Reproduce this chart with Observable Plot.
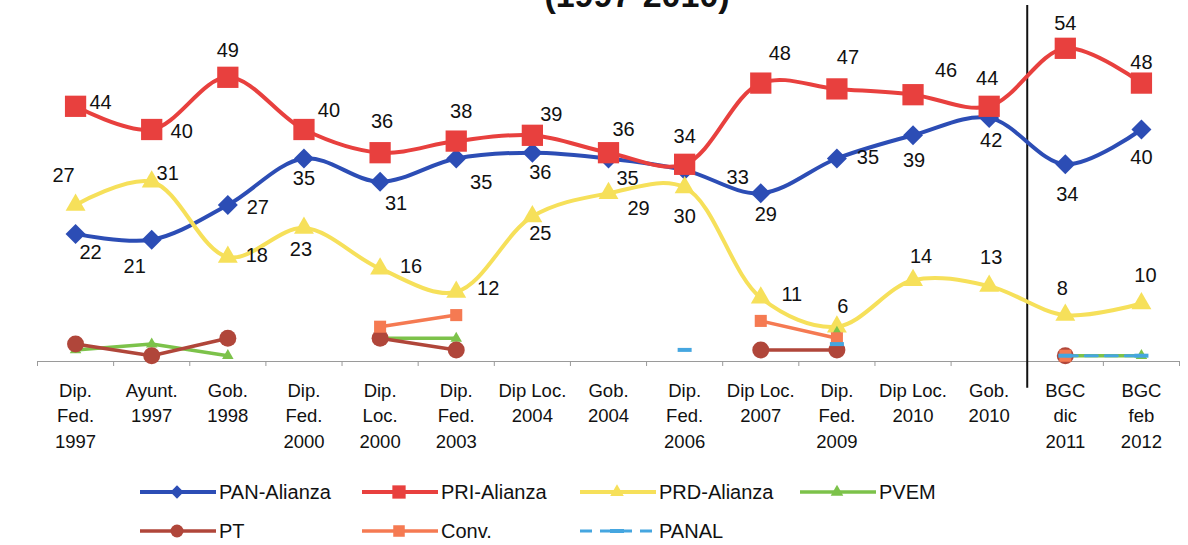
<!DOCTYPE html>
<html><head><meta charset="utf-8">
<script src="https://cdn.jsdelivr.net/npm/d3@7"></script>
<script src="https://cdn.jsdelivr.net/npm/@observablehq/plot@0.6"></script>
<style>
html,body{margin:0;padding:0;background:#fff;}
body{width:1188px;height:545px;overflow:hidden;position:relative;font-family:"Liberation Sans",Arial,sans-serif;}
#title{position:absolute;left:43px;width:1188px;top:-22px;text-align:center;font-weight:bold;font-size:34px;line-height:34px;color:#111;white-space:nowrap;}
#chart{position:absolute;left:0;top:0;}
#legend{position:absolute;left:0;top:0;width:1188px;height:545px;}
.item{position:absolute;display:flex;align-items:center;font-size:20px;color:#111;height:30px;}
.item svg{margin-right:3px;}
</style></head><body>
<div id="title">(1997-2010)</div>
<div id="chart"></div>
<div id="legend"></div>
<script>
// ---- data ----
const categories = ["Dip.\nFed.\n1997","Ayunt.\n1997","Gob.\n1998","Dip.\nFed.\n2000","Dip.\nLoc.\n2000","Dip.\nFed.\n2003","Dip Loc.\n2004","Gob.\n2004","Dip.\nFed.\n2006","Dip Loc.\n2007","Dip.\nFed.\n2009","Dip Loc.\n2010","Gob.\n2010","BGC\ndic\n2011","BGC\nfeb\n2012"];
const seriesNames = ["PAN-Alianza","PRI-Alianza","PRD-Alianza","PVEM","PT","Conv.","PANAL"];
const pan   = [22,21,27,35,31,35,36,35,33,29,35,39,42,34,40];
const pri   = [44,40,49,40,36,38,39,36,34,48,47,46,44,54,48];
const prd   = [27,31,18,23,16,12,25,29,30,11,6,14,13,8,10];
const pvem  = [2,3,1,null,4,4,null,null,null,null,5,null,null,1,1];
const pt    = [3,1,4,null,4,2,null,null,null,2,2,null,null,1,null];
const conv  = [null,null,null,null,6,8,null,null,null,7,4,null,null,1,null];
const panal = [null,null,null,null,null,null,null,null,2,null,3,null,null,1,1];
const dividerAfter = 12; // vertical rule between Gob. 2010 and BGC dic 2011

// ---- label offsets (px) for the data labels ----
const panLabelOffsets = [[15,19],[-17,27],[30,3],[0,20],[16,22],[25,24],[8,20],[19,20],[53,7],[5,21],[31,-1],[1,25],[2,23],[2,30],[0,28]];
const priLabelOffsets = [[25,-4],[30,2],[0,-27],[25,-19],[2,-31],[5,-30],[19,-21],[15,-23],[0,-28],[19,-30],[11,-31],[33,-24],[-2,-28],[0,-25],[0,-21]];
const prdLabelOffsets = [[-12,-29],[16,-8],[29,-2],[-3,21],[31,-2],[32,-3],[8,17],[30,15],[0,29],[31,-3],[6,-20],[8,-24],[2,-29],[-3,-27],[4,-28]];

// ---- styles ----
const dashSymbol = {draw(ctx){ctx.moveTo(-7,-2);ctx.lineTo(7,-2);ctx.lineTo(7,2);ctx.lineTo(-7,2);ctx.closePath();}};
const styles = [
  {color:"#2C4DB5", symbol:"diamond2", r:9,   lr:6,   width:4,   curve:"catmull-rom"},
  {color:"#E8403E", symbol:"square",   r:12,  lr:7.5, width:4,   curve:"catmull-rom"},
  {color:"#F6E05A", symbol:"triangle2",r:9.5, lr:6.5, width:4,   curve:"catmull-rom"},
  {color:"#7CC24A", symbol:"triangle2",r:5.5, lr:6,   width:3.5, curve:"linear"},
  {color:"#B0463A", symbol:"circle",   r:8.5, lr:6.5, width:3.5, curve:"linear"},
  {color:"#F57A52", symbol:"square",   r:6.8, lr:6.5, width:3.5, curve:"linear"},
  {color:"#45A6E0", symbol:dashSymbol, r:5,   lr:5,   width:3,   curve:"linear", dash:"12,8"}
];
const seriesValues = [pan,pri,prd,pvem,pt,conv,panal];

const rows = vals => vals.map((v,i)=>({i, v: v==null ? NaN : v}));
const marks = [];
marks.push(Plot.ruleY([0], {stroke:"#9a9a9a", strokeWidth:1.2}));
marks.push(Plot.axisX(d3.range(-0.5, categories.length, 1), {tickSize:5, tickFormat:()=>"", stroke:"#9a9a9a", label:null}));
marks.push(Plot.axisX(d3.range(categories.length), {tickSize:0, tickPadding:17, tickFormat:i=>categories[i], fontSize:18.5, lineHeight:1.38, fill:"#111", label:null}));
marks.push(Plot.ruleX([dividerAfter + 0.5], {y1:-4.6, y2:61.4, stroke:"#111", strokeWidth:2}));
seriesValues.forEach((vals,k)=>{
  const s = styles[k], data = rows(vals);
  marks.push(Plot.line(data, {x:"i", y:"v", stroke:s.color, strokeWidth:s.width, curve:s.curve, strokeDasharray:s.dash}));
  marks.push(Plot.dot(data, {x:"i", y:"v", symbol:()=>s.symbol, fill:s.color, r:s.r, stroke:"none"}));
});
[[pan,panLabelOffsets],[pri,priLabelOffsets],[prd,prdLabelOffsets]].forEach(([vals,offs])=>{
  vals.forEach((v,i)=>{
    marks.push(Plot.text([{i,v}], {x:"i", y:"v", text:d=>String(d.v), dx:offs[i][0], dy:offs[i][1], fontSize:20, fill:"#111"}));
  });
});

const chart = Plot.plot({
  width:1188, height:460,
  marginTop:13, marginBottom:99, marginLeft:37, marginRight:9,
  x:{type:"linear", domain:[-0.5, categories.length-0.5], axis:null, label:null},
  y:{domain:[0,60], axis:null, label:null},
  symbol:{type:"identity"},
  style:{fontFamily:"'Liberation Sans', Arial, sans-serif", background:"transparent", overflow:"visible"},
  marks
});
document.getElementById("chart").appendChild(chart);

// ---- legend ----
const legendPos = [[140,477],[362,477],[580,477],[800,477],[140,516],[362,516],[580,516]];
const legend = document.getElementById("legend");
seriesNames.forEach((name,k)=>{
  const s = styles[k];
  const div = document.createElement("div");
  div.className = "item";
  div.style.left = legendPos[k][0]+"px";
  div.style.top = legendPos[k][1]+"px";
  const svg = d3.create("svg").attr("width",76).attr("height",30);
  svg.append("line").attr("x1",0).attr("x2",76).attr("y1",15).attr("y2",15)
    .attr("stroke",s.color).attr("stroke-width",s.width).attr("stroke-dasharray",s.dash||null);
  const symType = typeof s.symbol==="string" ? ({diamond2:d3.symbolDiamond2,square:d3.symbolSquare,triangle2:d3.symbolTriangle2,circle:d3.symbolCircle})[s.symbol] : s.symbol;
  svg.append("path").attr("transform","translate(37,15)").attr("fill",s.color)
    .attr("d", d3.symbol(symType, Math.PI*s.lr*s.lr)());
  div.appendChild(svg.node());
  const span = document.createElement("span"); span.textContent = name;
  div.appendChild(span);
  legend.appendChild(div);
});
</script></body></html>
